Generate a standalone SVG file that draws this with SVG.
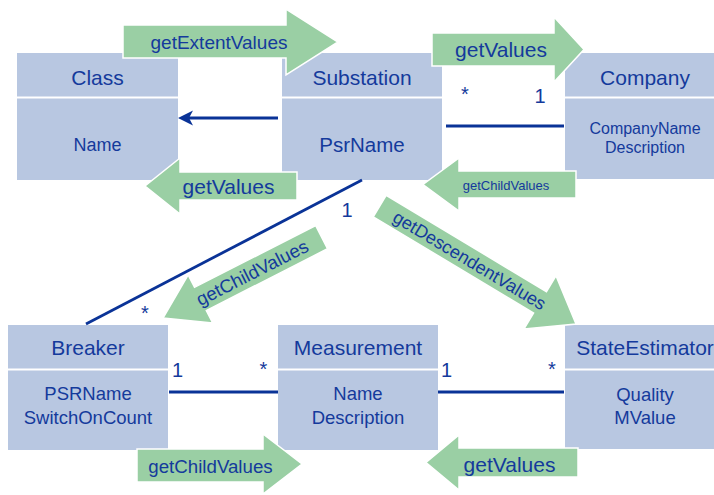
<svg xmlns="http://www.w3.org/2000/svg" width="714" height="495" viewBox="0 0 714 495">
  <style>
    .box { fill: #B8C7E1; }
    .sep { stroke: #FFFFFF; stroke-width: 2; }
    .t { font-family: "Liberation Sans", Arial, sans-serif; fill: #143A9C; text-anchor: middle; }
    .h { font-size: 21px; }
    .b { font-size: 18.5px; }
    .arrow { fill: #9ACFA4; stroke: #FFFFFF; stroke-width: 1.5; stroke-linejoin: miter; }
    .link { stroke: #0A3397; stroke-width: 2.8; fill: none; }
    .mult { font-family: "Liberation Sans", Arial, sans-serif; fill: #143A9C; text-anchor: middle; font-size: 20px; }
  </style>

  <!-- class boxes -->
  <g id="class">
    <rect class="box" x="17" y="53" width="161" height="127"/>
    <line class="sep" x1="17" y1="97.5" x2="178" y2="97.5"/>
    <text class="t h" x="97.5" y="84.5">Class</text>
    <text class="t" x="97.5" y="151" font-size="18px">Name</text>
  </g>
  <g id="substation">
    <rect class="box" x="282" y="53" width="160" height="127"/>
    <line class="sep" x1="282" y1="97.5" x2="442" y2="97.5"/>
    <text class="t h" x="362" y="84.5">Substation</text>
    <text class="t" x="362" y="152" font-size="20.5px">PsrName</text>
  </g>
  <g id="company">
    <rect class="box" x="565" y="53" width="160" height="126"/>
    <line class="sep" x1="565" y1="97.5" x2="725" y2="97.5"/>
    <text class="t h" x="645" y="84.5">Company</text>
    <text class="t" x="645" y="133.5" font-size="16px">CompanyName</text>
    <text class="t" x="645" y="152.5" font-size="16px">Description</text>
  </g>
  <g id="breaker">
    <rect class="box" x="8" y="325" width="160" height="125"/>
    <line class="sep" x1="8" y1="369.5" x2="168" y2="369.5"/>
    <text class="t h" x="88" y="354.5">Breaker</text>
    <text class="t b" x="88" y="399.5">PSRName</text>
    <text class="t b" x="88" y="423.5">SwitchOnCount</text>
  </g>
  <g id="measurement">
    <rect class="box" x="278" y="325" width="160" height="125"/>
    <line class="sep" x1="278" y1="369.5" x2="438" y2="369.5"/>
    <text class="t h" x="358" y="354.5">Measurement</text>
    <text class="t b" x="358" y="399.5">Name</text>
    <text class="t b" x="358" y="423.5">Description</text>
  </g>
  <g id="stateestimator">
    <rect class="box" x="565" y="325" width="160" height="124"/>
    <line class="sep" x1="565" y1="369.5" x2="725" y2="369.5"/>
    <text class="t h" x="645" y="354.5">StateEstimator</text>
    <text class="t b" x="645" y="400.5">Quality</text>
    <text class="t b" x="645" y="423.5">MValue</text>
  </g>

  <!-- associations -->
  <g id="connectors">
    <line class="link" x1="278" y1="118" x2="186" y2="118"/>
    <path d="M178,118 L193,110.5 L189,118 L193,125.5 Z" fill="#0A3397"/>
    <line class="link" x1="446" y1="126" x2="564" y2="126"/>
    <line class="link" x1="362" y1="180" x2="86" y2="324"/>
    <line class="link" x1="169" y1="392" x2="278" y2="392"/>
    <line class="link" x1="438" y1="392" x2="564" y2="392"/>
    <text class="mult" x="465" y="101">*</text>
    <text class="mult" x="540" y="103" font-size="22px">1</text>
    <text class="mult" x="347" y="217" font-size="21px">1</text>
    <text class="mult" x="145" y="319.5">*</text>
    <text class="mult" x="177.5" y="377">1</text>
    <text class="mult" x="263.5" y="376">*</text>
    <text class="mult" x="446.5" y="377">1</text>
    <text class="mult" x="552" y="376">*</text>
  </g>

  <!-- call arrows -->
  <g id="call-getExtentValues">
    <path class="arrow" d="M123,25 H286 V9 L338,42 L286,75 V58 H123 Z"/>
    <text class="t" x="219" y="48.5" font-size="19px">getExtentValues</text>
  </g>
  <g id="call-getValues-company">
    <path class="arrow" d="M432,33 H554 V17 L584,49.5 L554,82 V66 H432 Z"/>
    <text class="t" x="501" y="57" font-size="21px">getValues</text>
  </g>
  <g id="call-getValues-class">
    <path class="arrow" d="M297,172 H180 V158 L145,186 L180,214 V200 H297 Z"/>
    <text class="t" x="228.5" y="194" font-size="21px">getValues</text>
  </g>
  <g id="call-getChildValues-substation">
    <path class="arrow" d="M576,171 H459 V158 L423,184.5 L459,211 V198 H576 Z"/>
    <text class="t" x="506" y="189.5" font-size="13px">getChildValues</text>
  </g>
  <g id="call-getChildValues-breaker" transform="translate(163,318) rotate(-27)">
    <path class="arrow" d="M0,0 L42,-27 V-13 H178 V13 H42 V27 Z"/>
    <text class="t" x="100" y="6.5" font-size="18.5px">getChildValues</text>
  </g>
  <g id="call-getDescendentValues" transform="translate(576,324) rotate(31)">
    <path class="arrow" d="M0,0 L-42,-31 V-12.5 H-229 V12.5 H-42 V31 Z"/>
    <text class="t" x="-124" y="6.5" font-size="18px">getDescendentValues</text>
  </g>
  <g id="call-getChildValues-measurement">
    <path class="arrow" d="M137,449 H263 V434 L302,464 L263,494 V482 H137 Z"/>
    <text class="t" x="210.5" y="473" font-size="18.7px">getChildValues</text>
  </g>
  <g id="call-getValues-measurement">
    <path class="arrow" d="M578,448 H459 V435 L426,462.5 L459,490 V477 H578 Z"/>
    <text class="t" x="509.5" y="471.5" font-size="21px">getValues</text>
  </g>
</svg>
